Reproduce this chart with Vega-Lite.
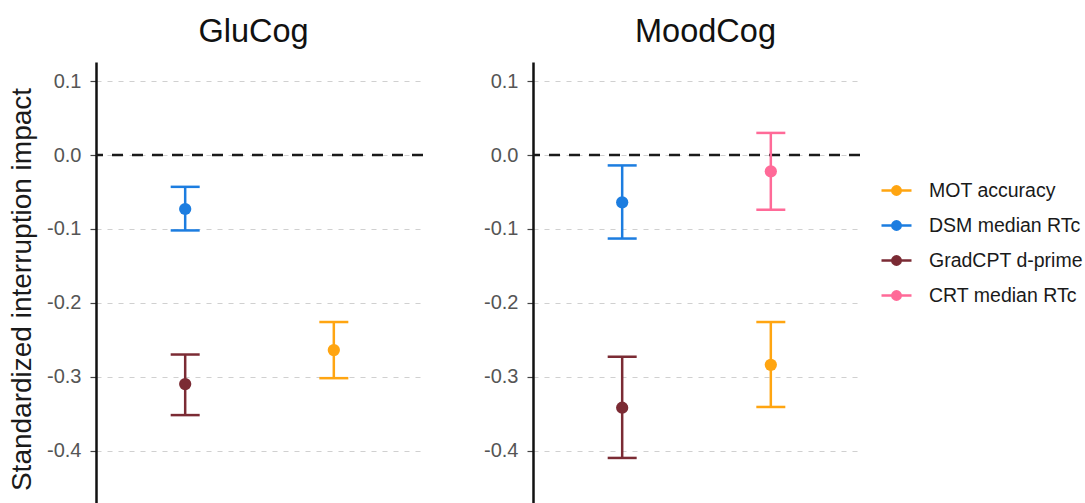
{
  "$schema": "https://vega.github.io/schema/vega-lite/v6.json",
  "background": "white",
  "padding": {"left": 8, "top": 15, "right": 0, "bottom": 0},
  "datasets": {
    "est": [
      {"panel": "GluCog", "measure": "DSM median RTc", "slot": 1, "estimate": -0.073, "lower": -0.102, "upper": -0.043},
      {"panel": "GluCog", "measure": "GradCPT d-prime", "slot": 1, "estimate": -0.310, "lower": -0.352, "upper": -0.270},
      {"panel": "GluCog", "measure": "MOT accuracy", "slot": 2, "estimate": -0.264, "lower": -0.302, "upper": -0.226},
      {"panel": "MoodCog", "measure": "DSM median RTc", "slot": 1, "estimate": -0.064, "lower": -0.113, "upper": -0.014},
      {"panel": "MoodCog", "measure": "GradCPT d-prime", "slot": 1, "estimate": -0.342, "lower": -0.410, "upper": -0.273},
      {"panel": "MoodCog", "measure": "CRT median RTc", "slot": 2, "estimate": -0.022, "lower": -0.074, "upper": 0.030},
      {"panel": "MoodCog", "measure": "MOT accuracy", "slot": 2, "estimate": -0.284, "lower": -0.341, "upper": -0.226}
    ],
    "ref": [{"zero": 0}]
  },
  "spacing": 58,
  "hconcat": [
    {
      "width": 327,
      "height": 441,
      "title": {"text": "GluCog", "dx": -6},
      "layer": [
        {
          "data": {"name": "ref"},
          "mark": {"type": "rule", "strokeDash": [11, 9], "strokeWidth": 2.5, "color": "#1a1a1a"},
          "encoding": {
            "y": {"field": "zero", "type": "quantitative", "scale": {"domain": [-0.471, 0.126], "nice": false, "zero": false},
              "axis": {"title": "Standardized interruption impact", "titleY": 227, "values": [0.1, 0, -0.1, -0.2, -0.3, -0.4],
                "labelExpr": "datum.value < 0 ? '-' + format(-datum.value, '.1f') : format(datum.value, '.1f')"}}
          }
        },
        {
          "data": {"name": "est"},
          "transform": [{"filter": "datum.panel === 'GluCog'"}],
          "mark": {"type": "rule", "strokeWidth": 2.5},
          "encoding": {
            "x": {"field": "slot", "type": "ordinal", "scale": {"type": "point", "domain": [1, 2], "padding": 0.6}, "axis": null},
            "y": {"field": "lower", "type": "quantitative"},
            "y2": {"field": "upper"},
            "color": {"field": "measure", "type": "nominal"}
          }
        },
        {
          "data": {"name": "est"},
          "transform": [{"filter": "datum.panel === 'GluCog'"}],
          "mark": {"type": "tick", "orient": "horizontal", "size": 29, "thickness": 2.5, "opacity": 1},
          "encoding": {
            "x": {"field": "slot", "type": "ordinal", "axis": null},
            "y": {"field": "lower", "type": "quantitative"},
            "color": {"field": "measure", "type": "nominal"}
          }
        },
        {
          "data": {"name": "est"},
          "transform": [{"filter": "datum.panel === 'GluCog'"}],
          "mark": {"type": "tick", "orient": "horizontal", "size": 29, "thickness": 2.5, "opacity": 1},
          "encoding": {
            "x": {"field": "slot", "type": "ordinal", "axis": null},
            "y": {"field": "upper", "type": "quantitative"},
            "color": {"field": "measure", "type": "nominal"}
          }
        },
        {
          "data": {"name": "est"},
          "transform": [{"filter": "datum.panel === 'GluCog'"}],
          "mark": {"type": "point", "filled": true, "size": 150, "opacity": 1},
          "encoding": {
            "x": {"field": "slot", "type": "ordinal", "axis": null},
            "y": {"field": "estimate", "type": "quantitative"},
            "color": {
              "field": "measure", "type": "nominal",
              "scale": {"domain": ["MOT accuracy", "DSM median RTc", "GradCPT d-prime", "CRT median RTc"],
                "range": ["#FFA511", "#1C7DE0", "#7B2B34", "#FF6A98"]},
              "legend": {
                "title": null,
                "encode": {"symbols": {"update": {"fill": {"scale": "color", "field": "value"}, "stroke": {"scale": "color", "field": "value"}, "opacity": {"value": 1}, "strokeWidth": {"value": 2.5}}}}
              }
            }
          }
        }
      ]
    },
    {
      "width": 327,
      "height": 441,
      "title": {"text": "MoodCog", "dx": 9},
      "layer": [
        {
          "data": {"name": "ref"},
          "mark": {"type": "rule", "strokeDash": [11, 9], "strokeWidth": 2.5, "color": "#1a1a1a"},
          "encoding": {
            "y": {"field": "zero", "type": "quantitative", "scale": {"domain": [-0.471, 0.126], "nice": false, "zero": false},
              "axis": {"title": null, "values": [0.1, 0, -0.1, -0.2, -0.3, -0.4],
                "labelExpr": "datum.value < 0 ? '-' + format(-datum.value, '.1f') : format(datum.value, '.1f')"}}
          }
        },
        {
          "data": {"name": "est"},
          "transform": [{"filter": "datum.panel === 'MoodCog'"}],
          "mark": {"type": "rule", "strokeWidth": 2.5},
          "encoding": {
            "x": {"field": "slot", "type": "ordinal", "scale": {"type": "point", "domain": [1, 2], "padding": 0.6}, "axis": null},
            "y": {"field": "lower", "type": "quantitative"},
            "y2": {"field": "upper"},
            "color": {"field": "measure", "type": "nominal"}
          }
        },
        {
          "data": {"name": "est"},
          "transform": [{"filter": "datum.panel === 'MoodCog'"}],
          "mark": {"type": "tick", "orient": "horizontal", "size": 29, "thickness": 2.5, "opacity": 1},
          "encoding": {
            "x": {"field": "slot", "type": "ordinal", "axis": null},
            "y": {"field": "lower", "type": "quantitative"},
            "color": {"field": "measure", "type": "nominal"}
          }
        },
        {
          "data": {"name": "est"},
          "transform": [{"filter": "datum.panel === 'MoodCog'"}],
          "mark": {"type": "tick", "orient": "horizontal", "size": 29, "thickness": 2.5, "opacity": 1},
          "encoding": {
            "x": {"field": "slot", "type": "ordinal", "axis": null},
            "y": {"field": "upper", "type": "quantitative"},
            "color": {"field": "measure", "type": "nominal"}
          }
        },
        {
          "data": {"name": "est"},
          "transform": [{"filter": "datum.panel === 'MoodCog'"}],
          "mark": {"type": "point", "filled": true, "size": 150, "opacity": 1},
          "encoding": {
            "x": {"field": "slot", "type": "ordinal", "axis": null},
            "y": {"field": "estimate", "type": "quantitative"},
            "color": {"field": "measure", "type": "nominal", "legend": {"title": null}}
          }
        }
      ]
    }
  ],
  "resolve": {"scale": {"color": "shared"}},
  "config": {
    "font": "Liberation Sans",
    "view": {"stroke": null},
    "title": {"fontSize": 32.5, "fontWeight": "normal", "color": "#111111", "offset": 14, "anchor": "middle", "font": "Liberation Sans"},
    "legend": {
      "orient": "none", "legendX": 784, "legendY": 112,
      "symbolType": "M-1,0H1M0.28,0A0.28,0.28,0,1,1,-0.28,0A0.28,0.28,0,1,1,0.28,0Z",
      "symbolSize": 900, "symbolStrokeWidth": 2.5, "symbolOpacity": 1,
      "labelFontSize": 19.5, "labelColor": "#1a1a1a", "labelFont": "Liberation Sans",
      "labelOffset": 16, "rowPadding": 9, "labelLimit": 300
    },
    "axisY": {
      "domainColor": "#111111", "domainWidth": 2.5,
      "tickColor": "#444444", "tickSize": 6, "tickWidth": 1.2,
      "labelFontSize": 20, "labelColor": "#555555", "labelPadding": 9, "labelFont": "Liberation Sans",
      "grid": true, "gridColor": "#d0d0d0", "gridDash": [5, 6], "gridWidth": 1.2,
      "titleFontSize": 28, "titleFontWeight": "normal", "titleColor": "#1a1a1a", "titleFont": "Liberation Sans", "titlePadding": 10
    }
  }
}
